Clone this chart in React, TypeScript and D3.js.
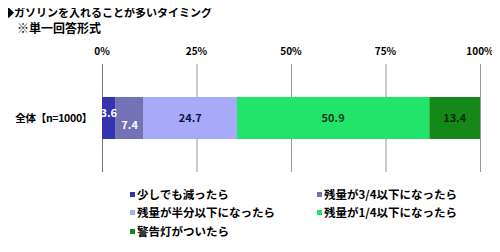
import * as d3 from 'd3';
import React, { useRef, useEffect } from 'react';

const title = '◆ガソリンを入れることが多いタイミング';
const subtitle = '※単一回答形式';
const category = '全体【n=1000】';
const seriesNames = ['少しでも減ったら', '残量が3/4以下になったら', '残量が半分以下になったら', '残量が1/4以下になったら', '警告灯がついたら'];
const seriesValues = [3.6, 7.4, 24.7, 50.9, 13.4];
const tickValues = [0, 25, 50, 75, 100];
const colors = ['#3434b0', '#7272b4', '#a9a9fa', '#22e46a', '#14891a'];
const labelColors = ['#ffffff', '#ffffff', '#10103a', '#0a3a1a', '#0a2a0a'];

const FONT = '"Noto Sans CJK JP", sans-serif';

function App() {
  const ref = useRef<SVGSVGElement>(null);

  useEffect(() => {
    draw();
  }, []);

  const draw = () => {
    const svg = d3.select(ref.current);
    svg.selectAll('*').remove();
    svg.attr('width', 500).attr('height', 252).style('font-family', FONT);

    svg.append('rect').attr('width', 500).attr('height', 252).attr('fill', '#fff');

    svg.append('text').attr('x', 3).attr('y', 17)
      .attr('font-size', 11).attr('font-weight', 'bold').text(title);
    svg.append('text').attr('x', 17).attr('y', 33)
      .attr('font-size', 12).attr('font-weight', 'bold').text(subtitle);

    const x = d3.scaleLinear().domain([0, 100]).range([102, 480]);
    const top = 64, bottom = 172;
    const y = d3.scaleBand().domain([category]).range([top, bottom]).padding(0.44);

    // gridlines
    svg.append('g').selectAll('line').data(tickValues).enter().append('line')
      .attr('x1', (d) => x(d) + 0.5).attr('x2', (d) => x(d) + 0.5)
      .attr('y1', top).attr('y2', bottom)
      .attr('stroke', (d) => d === 0 ? '#777' : '#999').attr('stroke-width', 1);

    svg.append('g').selectAll('text').data(tickValues).enter().append('text')
      .attr('x', (d) => x(d)).attr('y', 55)
      .attr('text-anchor', 'middle').attr('font-size', 10).attr('font-weight', 'bold')
      .text((d) => d + '%');

    // stacked bar
    const starts = seriesValues.map((v, i) => d3.sum(seriesValues.slice(0, i)));
    const bar = svg.append('g');
    bar.selectAll('rect').data(seriesValues).enter().append('rect')
      .attr('x', (d, i) => x(starts[i]))
      .attr('y', y(category)!)
      .attr('width', (d) => x(d) - x(0))
      .attr('height', y.bandwidth())
      .attr('fill', (d, i) => colors[i]);

    const cy = y(category)! + y.bandwidth() / 2;
    bar.selectAll('text').data(seriesValues).enter().append('text')
      .attr('x', (d, i) => x(starts[i] + d / 2))
      .attr('y', (d, i) => cy + 4 + (i === 0 ? -5 : i === 1 ? 7 : 0))
      .attr('text-anchor', 'middle').attr('font-size', 11).attr('font-weight', 'bold')
      .attr('fill', (d, i) => labelColors[i])
      .text((d) => d.toFixed(1));

    svg.append('text').attr('x', 92).attr('y', cy + 4)
      .attr('text-anchor', 'end').attr('font-size', 10.5).attr('font-weight', 'bold')
      .attr('letter-spacing', -0.3)
      .text(category);

    // legend
    const legendPos = [[130, 195], [317, 195], [130, 213], [317, 213], [130, 232]];
    const legend = svg.append('g').selectAll('g').data(seriesNames).enter().append('g')
      .attr('transform', (d, i) => `translate(${legendPos[i][0]}, ${legendPos[i][1]})`);
    legend.append('rect').attr('x', 0).attr('y', -3).attr('width', 5).attr('height', 5)
      .attr('fill', (d, i) => colors[i]);
    legend.append('text').attr('x', 7).attr('y', 4)
      .attr('font-size', 11.5).attr('font-weight', 'bold').text((d) => d);
  };

  return (
    <div style={{ margin: -8 }}>
      <svg ref={ref}></svg>
    </div>
  );
}

export default App;
